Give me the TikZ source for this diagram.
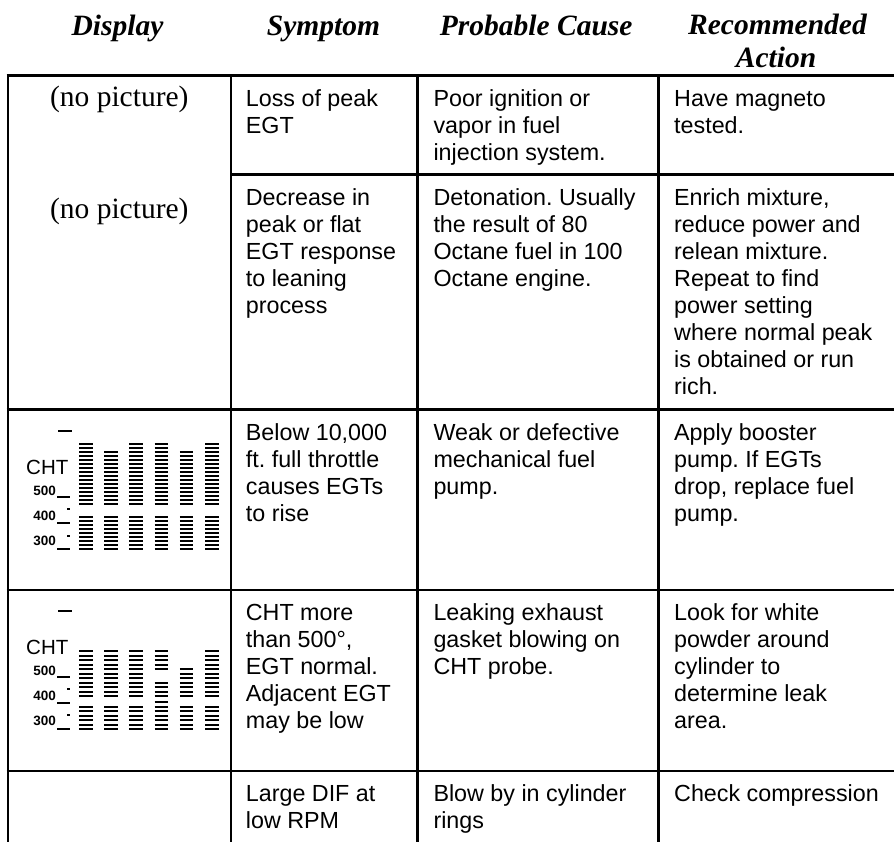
\documentclass[tikz,border=0pt]{standalone}
\usepackage{fontspec}
\setmainfont{Liberation Serif}
\newfontfamily\sansf{Liberation Sans}
\frenchspacing
\newcommand\bodyf{\sansf\fontsize{23.3pt}{27pt}\selectfont}
\newcommand\headf{\rmfamily\bfseries\itshape\fontsize{29.5pt}{33pt}\selectfont}
\newcommand\npf{\rmfamily\fontsize{29.5pt}{33pt}\selectfont}
\newcommand\chtf{\sansf\fontsize{20.5pt}{24pt}\selectfont}
\newcommand\numf{\sansf\bfseries\fontsize{13.5pt}{16pt}\selectfont}
\newcommand\cellt[1]{\vtop{\baselineskip=27pt\lineskiplimit=-50pt\lineskip=0pt\relax #1}}
\tikzset{
  rule/.style={line width=2.8pt},
  txt/.style={anchor=base west, inner sep=0pt, font=\bodyf},
  head/.style={anchor=base, inner sep=0pt, font=\headf},
  nopic/.style={anchor=base, inner sep=0pt, font=\npf},
  chtlab/.style={anchor=base west, inner sep=0pt, font=\chtf},
  numlab/.style={anchor=base east, inner sep=0pt, font=\numf},
  tick/.style={line width=2pt},
  barline/.style={line width=2pt}
}
\begin{document}
\begin{tikzpicture}[x=1pt,y=-1pt]
\useasboundingbox (0,0) rectangle (894,842);
\fill[white] (0,0) rectangle (894,842);

% headers
\node[head] (hdisp) at (117.5,35.5) {Display};
\node[head] (hsymp) at (323.5,35.5) {Symptom};
\node[head] (hcause) at (536.2,35.5) {Probable Cause};
\node[head] (hrec) at (777.5,34.5) {Recommended};
\node[head] (hact) at (776,67.5) {Action};

% table rules
\draw[rule] (6.6,75.5) -- (896,75.5);
\draw[rule] (231,174.5) -- (896,174.5);
\draw[rule] (6.6,409.3) -- (896,409.3);
\draw[rule] (6.6,590) -- (896,590);
\draw[rule] (6.6,771) -- (896,771);
\foreach \x in {8,231,417.7,658.7} \draw[rule] (\x,74.1) -- (\x,846);

% row 1
\node[nopic] (np1) at (119.3,107) {(no picture)};
\node[txt] (s1) at (245.7,106.5) {\cellt{\hbox{Loss of peak}\hbox{EGT}}};
\node[txt] (c1) at (433.3,106.5) {\cellt{\hbox{Poor ignition or}\hbox{vapor in fuel}\hbox{injection system.}}};
\node[txt] (a1) at (674,106.5) {\cellt{\hbox{Have magneto}\hbox{tested.}}};

% row 2
\node[nopic] (np2) at (119.3,218.3) {(no picture)};
\node[txt] (s2) at (245.7,205.5) {\cellt{\hbox{Decrease in}\hbox{peak or flat}\hbox{EGT response}\hbox{to leaning}\hbox{process}}};
\node[txt] (c2) at (433.3,205.5) {\cellt{\hbox{Detonation. Usually}\hbox{the result of 80}\hbox{Octane fuel in 100}\hbox{Octane engine.}}};
\node[txt] (a2) at (674,205.5) {\cellt{\hbox{Enrich mixture,}\hbox{reduce power and}\hbox{relean mixture.}\hbox{Repeat to find}\hbox{power setting}\hbox{where normal peak}\hbox{is obtained or run}\hbox{rich.}}};

% row 3
\node[txt] (s3) at (245.7,440) {\cellt{\hbox{Below 10,000}\hbox{ft. full throttle}\hbox{causes EGTs}\hbox{to rise}}};
\node[txt] (c3) at (433.3,440) {\cellt{\hbox{Weak or defective}\hbox{mechanical fuel}\hbox{pump.}}};
\node[txt] (a3) at (674,440) {\cellt{\hbox{Apply booster}\hbox{pump. If EGTs}\hbox{drop, replace fuel}\hbox{pump.}}};

% row 4
\node[txt] (s4) at (245.7,620.5) {\cellt{\hbox{CHT more}\hbox{than 500°,}\hbox{EGT normal.}\hbox{Adjacent EGT}\hbox{may be low}}};
\node[txt] (c4) at (433.3,620.5) {\cellt{\hbox{Leaking exhaust}\hbox{gasket blowing on}\hbox{CHT probe.}}};
\node[txt] (a4) at (674,620.5) {\cellt{\hbox{Look for white}\hbox{powder around}\hbox{cylinder to}\hbox{determine leak}\hbox{area.}}};

% row 5
\node[txt] (s5) at (245.7,801.5) {\cellt{\hbox{Large DIF at}\hbox{low RPM}}};
\node[txt] (c5) at (433.3,801.5) {\cellt{\hbox{Blow by in cylinder}\hbox{rings}}};
\node[txt] (a5) at (674,801.5) {\cellt{\hbox{Check compression}}};

% ---- display row 3 ----
\draw[tick] (58,431) -- (72,431);
\node[chtlab] (cht3) at (26,474.5) {CHT};
\node[numlab] (n5a) at (56,495) {500};
\node[numlab] (n4a) at (56,520) {400};
\node[numlab] (n3a) at (56,545) {300};
\draw[tick] (57.3,497) -- (70,497);
\draw[tick] (67.3,509) -- (70,509);
\draw[tick] (57.3,523) -- (70,523);
\draw[tick] (67.3,536) -- (70,536);
\draw[tick] (57.3,549) -- (70,549);
\foreach \c in {0,2,3,5} \foreach \k in {0,...,15}
  \draw[barline] ({79+25.2*\c},{444+4*\k}) -- ++(13.5,0);
\foreach \c in {1,4} \foreach \k in {2,...,15}
  \draw[barline] ({79+25.2*\c},{444+4*\k}) -- ++(13.5,0);
\foreach \c in {0,...,5} \foreach \k in {0,...,8}
  \draw[barline] ({79+25.2*\c},{517+4*\k}) -- ++(13.5,0);

% ---- display row 4 ----
\draw[tick] (58,611) -- (72,611);
\node[chtlab] (cht4) at (26,654.5) {CHT};
\node[numlab] (n5b) at (56,675) {500};
\node[numlab] (n4b) at (56,700) {400};
\node[numlab] (n3b) at (56,725) {300};
\draw[tick] (57.3,677) -- (70,677);
\draw[tick] (67.3,689) -- (70,689);
\draw[tick] (57.3,703) -- (70,703);
\draw[tick] (67.3,715) -- (70,715);
\draw[tick] (57.3,729) -- (70,729);
\foreach \c in {0,1,2,5} \foreach \k in {0,...,10}
  \draw[barline] ({79+25.2*\c},{round(651+4.5*\k)}) -- ++(13.5,0);
\foreach \k in {0,1,2,3,4,7,8,9,10}
  \draw[barline] ({79+25.2*3},{round(651+4.5*\k)}) -- ++(13.5,0);
\draw[barline] ({79+25.2*3},702) -- ++(13.5,0);
\foreach \k in {4,...,10}
  \draw[barline] ({79+25.2*4},{round(651+4.5*\k)}) -- ++(13.5,0);
\foreach \c in {0,...,5} \foreach \k in {0,...,5}
  \draw[barline] ({79+25.2*\c},{round(706.5+4.5*\k)}) -- ++(13.5,0);
\end{tikzpicture}
\end{document}
